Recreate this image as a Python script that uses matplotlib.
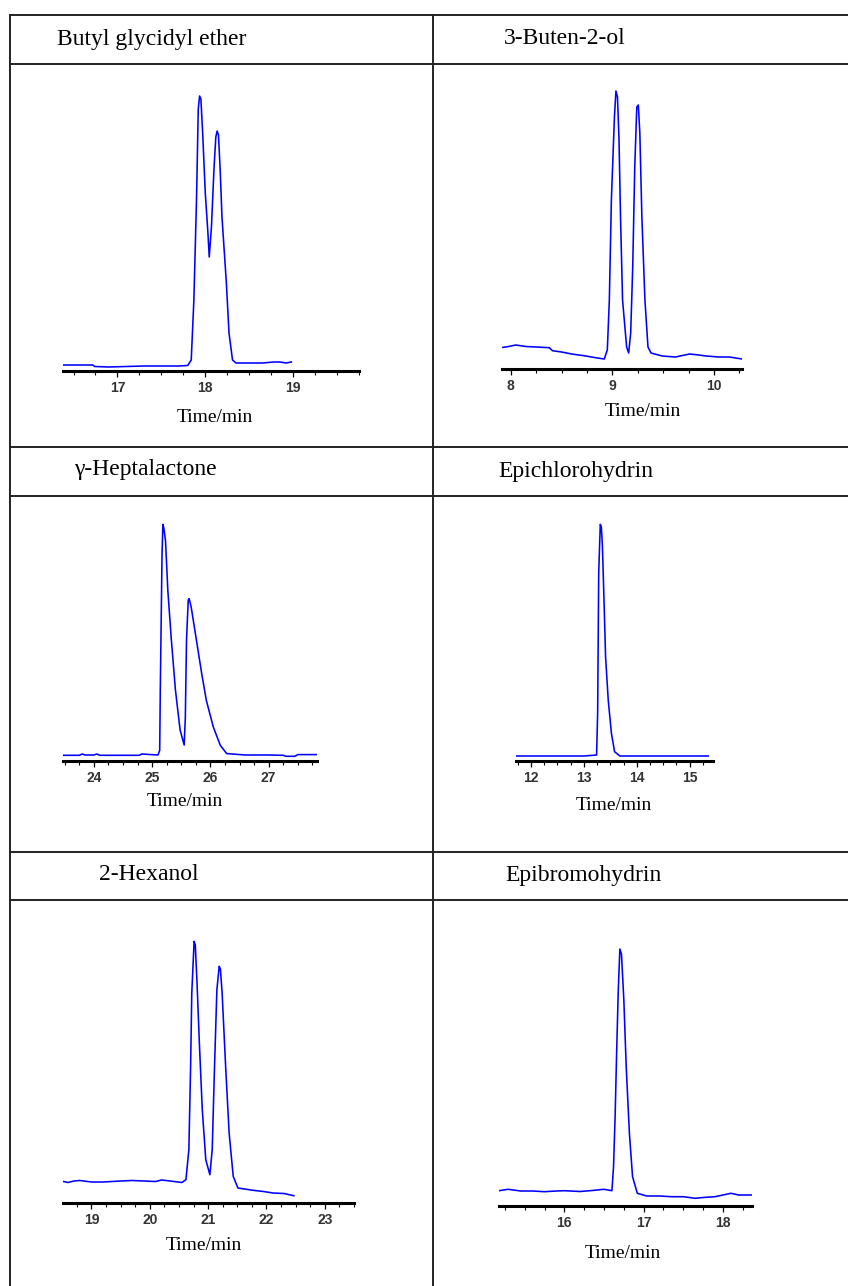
import matplotlib
matplotlib.use('Agg')
import matplotlib.pyplot as plt
from matplotlib.lines import Line2D
from matplotlib.ticker import MultipleLocator

W, H = 848, 1286

# ---------------------------------------------------------------------------
# chromatogram traces (time in min, signal in a.u.)
bge_t = [16.38, 16.55, 16.72, 16.74, 16.9, 17.1, 17.3, 17.5, 17.7, 17.8, 17.84, 17.87, 17.90, 17.92, 17.935, 17.95,
         17.97, 18.00, 18.03, 18.045, 18.07, 18.10, 18.12, 18.135, 18.15, 18.17, 18.19, 18.24, 18.27, 18.31,
         18.35, 18.5, 18.65, 18.78, 18.85, 18.92, 18.98]
bge_s = [6, 6, 6, 4.5, 4, 4.5, 5, 5, 5, 5.5, 11, 71, 171, 262, 275, 272,
         238, 178, 138, 114, 144, 204, 234, 240, 236, 200, 154, 88, 38, 11,
         8, 8, 8, 9, 9, 8, 9]

but_t = [7.914, 7.98, 8.05, 8.15, 8.25, 8.38, 8.41, 8.5, 8.6, 8.74, 8.85, 8.92, 8.95, 8.97, 8.99, 9.02,
         9.035, 9.05, 9.065, 9.08, 9.10, 9.14, 9.16, 9.18, 9.20, 9.22, 9.24, 9.255, 9.27, 9.29, 9.32, 9.35,
         9.38, 9.49, 9.62, 9.76, 9.85, 9.92, 10.05, 10.15, 10.275]
but_s = [21.5, 22.5, 24, 22.5, 22, 21.3, 18.3, 17, 15, 13, 11, 10, 19, 69, 169, 252,
         278, 272, 230, 152, 69, 22, 16, 36, 102, 202, 262, 264, 236, 152, 69, 22,
         16, 13, 12, 15, 14, 13, 12, 12, 10]

hep_t = [23.47, 23.75, 23.8, 23.85, 24.0, 24.05, 24.1, 24.5, 24.78, 24.82, 25.1, 25.13, 25.14, 25.17, 25.185, 25.2,
         25.23, 25.27, 25.33, 25.40, 25.48, 25.55, 25.57, 25.59, 25.62, 25.635, 25.67, 25.76,
         25.85, 25.93, 26.05, 26.17, 26.28, 26.6, 27.0, 27.25, 27.3, 27.45, 27.5, 27.83]
hep_s = [5.7, 5.7, 7, 6, 6, 7, 5.7, 5.7, 5.7, 7, 6, 10.7, 70.7, 207, 236.7, 233,
         220, 170, 121, 71, 31, 16, 44, 121, 161, 162.4, 154, 121,
         87.7, 60.7, 34, 15.7, 7.4, 6, 6, 5.7, 4.7, 4.7, 6.4, 6.4]

epc_t = [11.717, 12.5, 13.0, 13.24, 13.26, 13.28, 13.31, 13.33, 13.35, 13.38, 13.41, 13.46,
         13.52, 13.58, 13.68, 14.2, 14.8, 15.35]
epc_s = [5, 5, 5, 6, 47.7, 187.7, 236.7, 234, 215, 161, 104, 61,
         27.7, 9.3, 5, 5, 5, 5]

hex_t = [18.513, 18.6, 18.7, 18.8, 19.0, 19.2, 19.5, 19.7, 19.9, 20.1, 20.2, 20.35, 20.55, 20.62, 20.67,
         20.70, 20.72, 20.76, 20.78, 20.81, 20.85, 20.90, 20.96, 21.03, 21.07, 21.11, 21.15, 21.19, 21.21,
         21.24, 21.30, 21.36, 21.43, 21.51, 21.77, 21.95, 22.11, 22.3, 22.47]
hex_s = [21.6, 20.5, 22, 22.5, 21, 21, 22, 22.5, 22, 21.5, 23, 22, 20.5, 23.3, 53.3,
         136.7, 210, 261.7, 258, 220, 160, 93.3, 43.3, 28.3, 53.3, 136.7, 213.3, 236.7, 234,
         210, 136.7, 70, 26.7, 15, 12.7, 11.5, 10, 9.5, 7.3]

ebr_t = [15.176, 15.29, 15.45, 15.6, 15.75, 15.9, 16.0, 16.2, 16.35, 16.5, 16.6, 16.62, 16.64, 16.66,
         16.68, 16.70, 16.72, 16.75, 16.78, 16.82, 16.86, 16.92, 17.04, 17.2, 17.35, 17.5, 17.65, 17.75,
         17.9, 18.0, 18.1, 18.2, 18.366]
ebr_s = [15.3, 16.7, 15, 15, 14.3, 15, 15.3, 14.5, 15.5, 16.7, 15.3, 39.3, 89.3, 156,
         216, 257, 252, 206, 139.3, 72.7, 29.3, 12.7, 10, 10, 9.3, 9.3, 7.7, 8.5,
         9.3, 11, 12.7, 11, 11]

names = ['Butyl glycidyl ether', '3-Buten-2-ol', '\u03b3-Heptalactone',
         'Epichlorohydrin', '2-Hexanol', 'Epibromohydrin']
traces = [(bge_t, bge_s), (but_t, but_s), (hep_t, hep_s),
          (epc_t, epc_s), (hex_t, hex_s), (ebr_t, ebr_s)]
xlims = [(16.38, 19.75), (7.914, 10.275), (23.47, 27.83),
         (11.717, 15.44), (18.513, 23.50), (15.176, 18.366)]
majors = [[17, 18, 19], [8, 9, 10], [24, 25, 26, 27],
          [12, 13, 14, 15], [19, 20, 21, 22, 23], [16, 17, 18]]

# layout in pixels: axis line left, right, y ; title x, y ; xlabel x, y
axis_px = [(63, 359, 371), (502, 742, 369), (63, 317, 761),
           (516, 713, 761), (63, 354, 1203), (499, 752, 1206)]
title_px = [(57, 39), (504, 39), (74, 470), (498, 471), (99, 875), (505, 875)]
xlab_px = [(215, 417), (643, 412), (185, 801), (614, 806), (204, 1246), (623, 1253)]

fig = plt.figure(figsize=(W / 100, H / 100), dpi=100)

def fx(x):
    return x / W

def fy(y):
    return 1 - y / H

# table grid
lc = '#222222'
for y in [15, 63.5, 446.5, 496, 852, 900]:
    fig.add_artist(Line2D([fx(10), 1], [fy(y), fy(y)], color=lc, lw=1.4))
for x in [10, 433]:
    fig.add_artist(Line2D([fx(x), fx(x)], [fy(15), 0], color=lc, lw=1.4))

for i in range(6):
    x0, x1, yb = axis_px[i]
    ax = fig.add_axes([fx(x0), fy(yb), (x1 - x0) / W, 300 / H])
    ax.patch.set_alpha(0)
    t, s = traces[i]
    ax.plot(t, s, color='#0000ff', lw=1.15)
    ax.set_xlim(*xlims[i])
    ax.set_ylim(0, 300)
    for sp in ['top', 'left', 'right']:
        ax.spines[sp].set_visible(False)
    ax.spines['bottom'].set_linewidth(2.2)
    ax.yaxis.set_visible(False)
    ax.set_xticks(majors[i])
    ax.xaxis.set_minor_locator(MultipleLocator(0.25))
    ax.tick_params(axis='x', which='major', length=4, width=0.9, pad=3,
                   labelsize=10, labelcolor='#333333')
    ax.tick_params(axis='x', which='minor', length=3, width=0.8)
    for lb in ax.get_xticklabels():
        lb.set_fontfamily('Liberation Sans')
        lb.set_fontweight('bold')

    tx, ty = title_px[i]
    fig.text(fx(tx), fy(ty), names[i], family='Liberation Serif', fontsize=17,
             ha='left', va='center')
    lx, ly = xlab_px[i]
    fig.text(fx(lx), fy(ly), 'Time/min', family='Liberation Serif', fontsize=14,
             ha='center', va='center')

fig.savefig('out.png', dpi=100)
